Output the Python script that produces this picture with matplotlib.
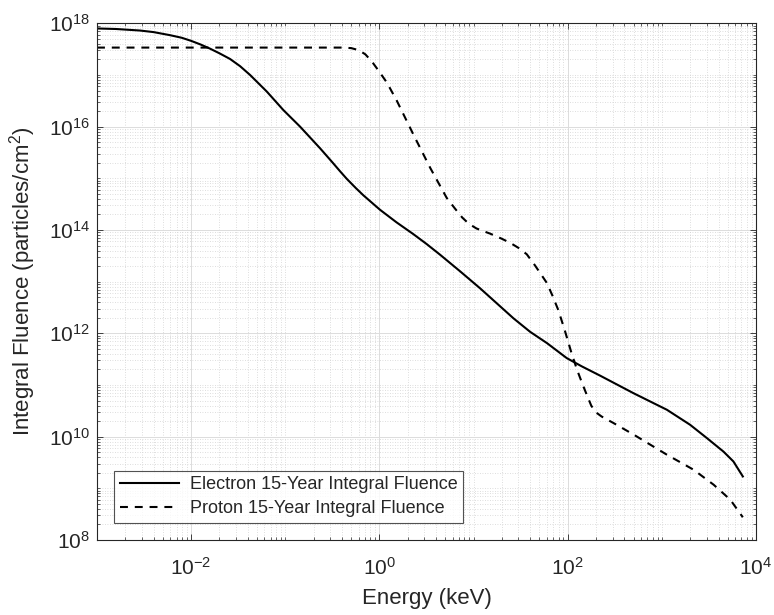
import numpy as np
import matplotlib
matplotlib.use('Agg')
import matplotlib.pyplot as plt
from matplotlib import ticker

plt.rcParams['font.family'] = ['Liberation Sans', 'DejaVu Sans']
plt.rcParams['mathtext.fontset'] = 'custom'
plt.rcParams['mathtext.rm'] = 'Liberation Sans'
plt.rcParams['mathtext.it'] = 'Liberation Sans:italic'
plt.rcParams['mathtext.bf'] = 'Liberation Sans:bold'

# values (log10 of energy in keV / fluence)
electron_log_e = [-3.0, -2.8, -2.543, -2.4, -2.224, -2.1, -2.0, -1.9, -1.8, -1.7,
                  -1.587, -1.48, -1.374, -1.197, -1.02, -0.843, -0.63, -0.5, -0.42, -0.347,
                  -0.25, -0.17, 0.007, 0.18, 0.36, 0.5, 0.645, 0.857, 1.07, 1.247,
                  1.424, 1.6, 1.78, 1.99, 2.15, 2.345, 2.7, 3.054, 3.3, 3.48,
                  3.655, 3.76, 3.86]
electron_log_f = [17.90, 17.89, 17.86, 17.83, 17.77, 17.72, 17.66, 17.59, 17.51, 17.42,
                  17.31, 17.17, 17.00, 16.68, 16.32, 16.00, 15.58, 15.31, 15.14, 14.99,
                  14.81, 14.67, 14.39, 14.15, 13.92, 13.73, 13.52, 13.20, 12.87, 12.58,
                  12.29, 12.03, 11.81, 11.52, 11.36, 11.18, 10.84, 10.52, 10.23, 9.97,
                  9.71, 9.52, 9.23]

proton_log_e = [-3.0, -0.4, -0.3, -0.22, -0.15, -0.08, 0.0, 0.08, 0.185, 0.36,
                0.54, 0.715, 0.8, 0.88, 0.95, 1.03, 1.1, 1.175, 1.3, 1.39,
                1.48, 1.565, 1.65, 1.71, 1.78, 1.84, 1.9, 1.97, 2.04, 2.1,
                2.15, 2.2, 2.25, 2.3, 2.36, 2.49, 2.7, 3.054, 3.337, 3.55,
                3.727, 3.86]
proton_log_f = [17.53, 17.53, 17.52, 17.48, 17.40, 17.26, 17.06, 16.85, 16.50, 15.85,
                15.20, 14.62, 14.42, 14.24, 14.12, 14.03, 13.98, 13.93, 13.83, 13.75,
                13.65, 13.53, 13.32, 13.16, 12.97, 12.72, 12.45, 12.05, 11.62, 11.29,
                11.05, 10.82, 10.60, 10.47, 10.39, 10.26, 10.04, 9.65, 9.36, 9.07,
                8.78, 8.44]

x_major = [1e-2, 1e0, 1e2, 1e4]
x_labels = [r'$10^{-2}$', r'$10^{0}$', r'$10^{2}$', r'$10^{4}$']
y_major = [1e8, 1e10, 1e12, 1e14, 1e16, 1e18]
y_labels = [r'$10^{8}$', r'$10^{10}$', r'$10^{12}$', r'$10^{14}$', r'$10^{16}$', r'$10^{18}$']

txt = '#262626'

fig = plt.figure(figsize=(7.74, 6.15), dpi=100)
ax = fig.add_axes([97/774, 1-540/615, (756-97)/774, (540-23.3)/615])

lw = 1.5
ax.plot(10**np.array(electron_log_e), 10**np.array(electron_log_f), color='k', lw=lw,
        label='Electron 15-Year Integral Fluence')
ax.plot(10**np.array(proton_log_e), 10**np.array(proton_log_f), color='k', lw=lw,
        dashes=(3.8, 3.3), label='Proton 15-Year Integral Fluence')

ax.set_xscale('log')
ax.set_yscale('log')
ax.set_xlim(1e-3, 1e4)
ax.set_ylim(1e8, 1e18)

ax.xaxis.set_major_locator(ticker.FixedLocator(x_major))
ax.xaxis.set_major_formatter(ticker.FixedFormatter(x_labels))
ax.yaxis.set_major_locator(ticker.FixedLocator(y_major))
ax.yaxis.set_major_formatter(ticker.FixedFormatter(y_labels))
ax.xaxis.set_minor_locator(ticker.LogLocator(base=10, subs=np.arange(1, 10), numticks=100))
ax.yaxis.set_minor_locator(ticker.LogLocator(base=10, subs=np.arange(1, 10), numticks=100))
ax.xaxis.set_minor_formatter(ticker.NullFormatter())
ax.yaxis.set_minor_formatter(ticker.NullFormatter())

ax.grid(True, which='major', color='#dcdcdc', lw=0.7, ls='-')
ax.grid(True, which='minor', color='#d2d2d2', lw=0.6, ls=(0, (1, 2)))
ax.set_axisbelow(True)

ax.tick_params(which='both', direction='in', top=True, right=True, colors=txt)
ax.tick_params(which='major', length=4, width=0.6, labelsize=15, pad=12)
ax.tick_params(which='minor', length=2.2, width=0.5)
ax.tick_params(axis='y', which='major', pad=5)
for s in ax.spines.values():
    s.set_color(txt)
    s.set_linewidth(0.8)

ax.set_xlabel('Energy (keV)', fontsize=16, color=txt, labelpad=7)
ax.set_ylabel('Integral Fluence (particles/cm$^2$)', fontsize=16, color=txt, labelpad=8)

leg = ax.legend(loc='lower left', fontsize=13, handlelength=3.3, frameon=True,
                fancybox=False, edgecolor=txt, borderaxespad=0.95, labelspacing=0.4,
                borderpad=0.3, handletextpad=0.6)
leg.get_frame().set_linewidth(0.8)
for t in leg.get_texts():
    t.set_color(txt)

fig.savefig('out.png', dpi=100, facecolor='white')
